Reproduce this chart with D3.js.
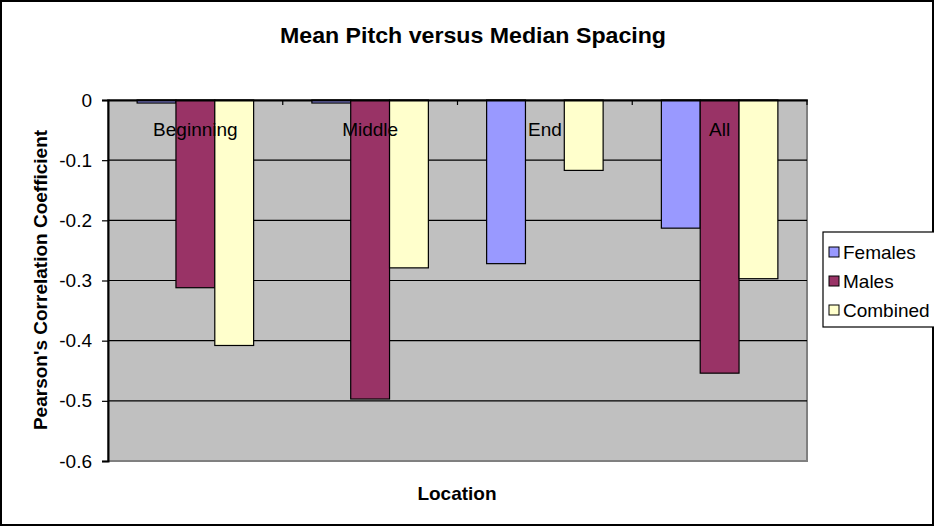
<!DOCTYPE html>
<html>
<head>
<meta charset="utf-8">
<script src="https://cdn.jsdelivr.net/npm/d3@7"></script>
<style>
  body { margin: 0; background: #fff; }
  text { font-family: "Liberation Sans", Arial, sans-serif; fill: #000; }
</style>
</head>
<body>
<div id="chart"></div>
<script>
// Chart data.
var locations = ["Beginning", "Middle", "End", "All"];
var seriesNames = ["Females", "Males", "Combined"];
var females = [-0.005, -0.005, -0.272, -0.213];
var males = [-0.312, -0.497, 0, -0.454];
var combined = [-0.408, -0.279, -0.117, -0.297];
var yTicks = [0, -0.1, -0.2, -0.3, -0.4, -0.5, -0.6];
var colors = ["#9999FF", "#993366", "#FFFFCC"];

var width = 934, height = 526;
var plot = { left: 108, right: 807, top: 100, bottom: 461 };
var font = "'Liberation Sans', Arial, sans-serif";

var svg = d3.select("#chart").append("svg")
  .attr("width", width)
  .attr("height", height);

// Outer chart border.
svg.append("rect")
  .attr("x", 1).attr("y", 1)
  .attr("width", width - 2).attr("height", height - 2)
  .attr("fill", "#fff").attr("stroke", "#000").attr("stroke-width", 2);

// Scales.
var x = d3.scaleBand()
  .domain(locations)
  .range([plot.left, plot.right])
  .paddingInner(0).paddingOuter(0);

var inner = d3.scaleBand()
  .domain(seriesNames)
  .range([x.bandwidth() / 6, x.bandwidth() * 5 / 6]);

var y = d3.scaleLinear()
  .domain([-0.6, 0])
  .range([plot.bottom, plot.top]);

// Plot background.
svg.append("rect")
  .attr("x", plot.left).attr("y", plot.top)
  .attr("width", plot.right - plot.left).attr("height", plot.bottom - plot.top)
  .attr("fill", "#C0C0C0").attr("stroke", "#808080").attr("stroke-width", 2);

// Gridlines.
svg.append("g")
  .selectAll("line")
  .data(yTicks.filter(function (d) { return d !== 0 && d !== -0.6; }))
  .enter().append("line")
    .attr("x1", plot.left).attr("x2", plot.right)
    .attr("y1", function (d) { return y(d); })
    .attr("y2", function (d) { return y(d); })
    .attr("stroke", "#000").attr("stroke-width", 1.2);

// Bars.
var rows = locations.map(function (loc, i) {
  return { loc: loc, values: [females[i], males[i], combined[i]] };
});

var groups = svg.append("g").selectAll("g")
  .data(rows)
  .enter().append("g")
    .attr("transform", function (d) { return "translate(" + x(d.loc) + ",0)"; });

groups.selectAll("rect")
  .data(function (d) {
    return d.values.map(function (v, j) { return { name: seriesNames[j], value: v, idx: j }; });
  })
  .enter().filter(function (d) { return d.value !== 0; }).append("rect")
    .attr("x", function (d) { return inner(d.name); })
    .attr("width", inner.bandwidth())
    .attr("y", y(0))
    .attr("height", function (d) { return y(d.value) - y(0); })
    .attr("fill", function (d) { return colors[d.idx]; })
    .attr("stroke", "#000").attr("stroke-width", 1.2);

// Y axis.
var yAxis = d3.axisLeft(y)
  .tickValues(yTicks)
  .tickSize(6)
  .tickFormat(function (d) { return d === 0 ? "0" : d3.format(".1f")(d).replace("\u2212", "-"); });

var yG = svg.append("g")
  .attr("transform", "translate(" + plot.left + ",0)")
  .call(yAxis);
yG.select(".domain").attr("stroke", "#000").attr("stroke-width", 2);
yG.selectAll(".tick line").attr("stroke", "#000").attr("stroke-width", 1.2);
yG.selectAll(".tick text")
  .attr("x", -16)
  .style("font-size", "19px")
  .style("font-family", font);

// X axis at zero, labels sit inside the plot.
var xAxis = d3.axisBottom(x).tickSize(0).tickSizeOuter(0);
var xG = svg.append("g")
  .attr("transform", "translate(0," + y(0) + ")")
  .call(xAxis);
xG.select(".domain").attr("stroke", "#000").attr("stroke-width", 2);
xG.selectAll(".tick text")
  .attr("y", 36).attr("dy", 0)
  .style("font-size", "19px")
  .style("font-family", font);

// Category boundary tick marks on the zero axis.
svg.append("g").selectAll("line")
  .data(locations.slice(1).concat(["__end"]))
  .enter().append("line")
    .attr("x1", function (d) { return d === "__end" ? plot.right : x(d); })
    .attr("x2", function (d) { return d === "__end" ? plot.right : x(d); })
    .attr("y1", y(0)).attr("y2", y(0) + 5)
    .attr("stroke", "#000").attr("stroke-width", 1.2);

// Titles.
svg.append("text")
  .attr("x", 473).attr("y", 43)
  .attr("text-anchor", "middle")
  .attr("textLength", 386).attr("lengthAdjust", "spacingAndGlyphs")
  .style("font-size", "22px").style("font-weight", "bold")
  .text("Mean Pitch versus Median Spacing");

svg.append("text")
  .attr("x", 457).attr("y", 500)
  .attr("text-anchor", "middle")
  .style("font-size", "19px").style("font-weight", "bold")
  .text("Location");

svg.append("text")
  .attr("transform", "translate(47," + 280 + ") rotate(-90)")
  .attr("text-anchor", "middle")
  .style("font-size", "19px").style("font-weight", "bold")
  .text("Pearson's Correlation Coefficient");

// Legend.
var legend = svg.append("g").attr("transform", "translate(823,232)");
legend.append("rect")
  .attr("width", 120).attr("height", 95)
  .attr("fill", "#fff").attr("stroke", "#000").attr("stroke-width", 1.2);

var items = legend.selectAll("g.item")
  .data(seriesNames)
  .enter().append("g")
    .attr("class", "item")
    .attr("transform", function (d, i) { return "translate(0," + (20 + i * 29) + ")"; });

items.append("rect")
  .attr("x", 6).attr("y", -5)
  .attr("width", 10).attr("height", 10)
  .attr("fill", function (d, i) { return colors[i]; })
  .attr("stroke", "#000").attr("stroke-width", 1);

items.append("text")
  .attr("x", 20).attr("y", 7)
  .style("font-size", "19px")
  .text(function (d) { return d; });
</script>
</body>
</html>
